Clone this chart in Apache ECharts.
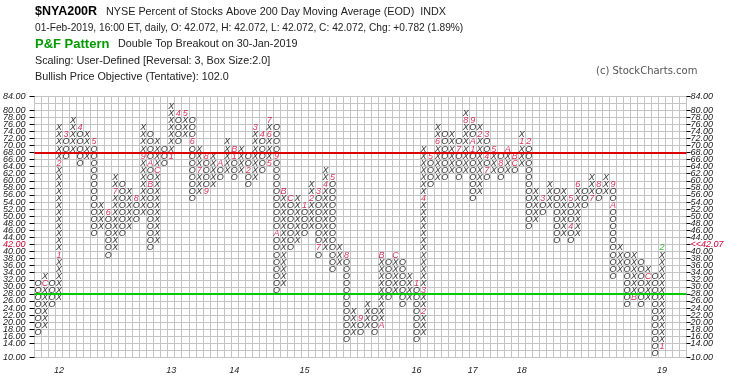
<!DOCTYPE html>
<html><head><meta charset="utf-8">
<script src="https://cdn.jsdelivr.net/npm/echarts@6/dist/echarts.min.js"></script>
<style>html,body{margin:0;padding:0;background:#fff}#c{width:745px;height:383px}</style>
</head><body><div id="c"></div>
<script>
// ---- data (box values, box size 2); columns alternate O / X starting with O ----
const firstColType = 'O';
const colLow  = [18,20,26,28,68,70,66,68,46,48, 40,42,46,48,50,52,42,44,66,68, 72,74,56,58,58,60,62,64,62,64, 60,62,64,66,30,32,42,44,46,48, 40,42,36,38,16,18,18,20,18,20, 28,30,26,28,16,18,60,62,62,64, 62,64,56,58,62,64,62,64,64,66, 48,50,52,54,44,46,44,46,54,56, 56,58,34,36,26,28,26,28,12,14];
const colHigh = [32,34,32,76,74,78,76,74,72,54, 52,62,60,58,56,76,74,72,70,82, 80,80,78,70,68,68,66,72,70,70, 68,76,74,78,76,58,56,56,54,60, 58,64,62,42,40,24,22,26,24,40, 38,40,38,34,32,70,68,76,74,74, 72,80,78,76,74,70,68,70,68,74, 72,58,56,60,58,58,56,60,58,62, 60,62,60,42,40,40,38,36,34,42];
const monthMarks = [
  [1,32,'C'],[3,40,'1'],[3,66,'2'],[4,74,'3'],[6,76,'4'],[8,72,'5'],[10,52,'6'],[11,58,'7'],[14,56,'8'],[15,68,'9'],[16,66,'A'],[16,60,'B'],[17,64,'C'],
  [19,68,'1'],[20,80,'4'],[21,80,'5'],[22,72,'6'],[23,64,'7'],[24,68,'8'],[24,58,'9'],[26,66,'A'],[28,70,'B'],[28,68,'1'],
  [30,64,'2'],[31,76,'3'],[32,74,'4'],[33,66,'5'],[33,74,'6'],[33,78,'7'],[34,68,'9'],[34,46,'A'],[35,58,'B'],[36,56,'C'],
  [38,54,'1'],[39,56,'2'],[40,58,'3'],[41,60,'4'],[42,62,'5'],[40,42,'7'],[44,40,'8'],[46,22,'9'],[49,20,'A'],[49,40,'B'],[51,40,'C'],
  [54,32,'1'],[55,24,'2'],[55,30,'3'],[55,56,'4'],[56,68,'5'],[57,72,'6'],[60,70,'7'],[61,78,'8'],[62,78,'9'],[62,72,'A'],
  [62,70,'1'],[63,74,'2'],[64,74,'3'],[64,68,'4'],[65,70,'5'],[64,64,'7'],[66,66,'8'],[67,70,'A'],[68,68,'B'],[68,66,'C'],
  [69,72,'1'],[70,72,'2'],[72,56,'3'],[76,48,'4'],[76,56,'5'],[77,60,'6'],[79,56,'7'],[80,60,'8'],[82,60,'9'],[82,54,'A'],
  [85,28,'B'],[87,34,'C'],[89,14,'1']
];
const currentMark = [89,42,'2'];
const yearLabels = {3:'12',19:'13',28:'14',38:'15',54:'16',62:'17',69:'18',89:'19'};
const totalCols = 93;
const priceMin = 10, priceMax = 84, boxSize = 2;
const lastPrice = '42.07', lastBox = 42;
const upperLine = 68, lowerLine = 28;

// ---- build points ----
const markKey = {};
monthMarks.forEach(m => markKey[m[0]+'_'+m[1]] = 1);
markKey[currentMark[0]+'_'+currentMark[1]] = 1;
const xs = [], os = [];
colLow.forEach((lo, i) => {
  const t = (i % 2 === 0) ? firstColType : (firstColType === 'O' ? 'X' : 'O');
  for (let v = lo; v <= colHigh[i]; v += boxSize) {
    if (markKey[i+'_'+v]) continue;
    (t === 'X' ? xs : os).push([i, v - boxSize/2]);
  }
});
const marks = monthMarks.map(m => [m[0], m[1] - boxSize/2, m[2]]);
const cats = Array.from({length: totalCols}, (_, i) => String(i));

const symFont = {fontFamily: 'Liberation Sans', fontStyle: 'italic', fontSize: 9};
function textSeries(name, data, color, txtFn) {
  return {
    name, type: 'scatter', data, symbol: 'rect', symbolSize: 1,
    itemStyle: {color: 'rgba(0,0,0,0)'}, silent: true, animation: false,
    label: Object.assign({show: true, position: 'inside', color,
      formatter: p => txtFn(p)}, symFont),
    labelLayout: {hideOverlap: false}
  };
}

const chart = echarts.init(document.getElementById('c'), null, {renderer: 'canvas'});
const F = 'Liberation Sans, Arial, sans-serif';
chart.setOption({
  backgroundColor: '#fff',
  animation: false,
  grid: {left: 34.5, right: 58.5, top: 96, bottom: 25.5},
  xAxis: {
    type: 'category', data: cats, boundaryGap: true,
    axisLine: {show: false}, axisTick: {show: false},
    splitLine: {show: true, interval: 0, lineStyle: {color: '#c4c4c4', width: 1}},
    axisLabel: {interval: 0, margin: 8, fontFamily: F, fontStyle: 'italic', fontSize: 9, color: '#222',
      formatter: (v, i) => yearLabels[i] || ''}
  },
  yAxis: [{
    type: 'value', min: priceMin, max: priceMax, interval: boxSize, position: 'left',
    axisLine: {show: false},
    axisTick: {show: true, length: 5, lineStyle: {color: '#000'}},
    splitLine: {show: true, lineStyle: {color: '#c4c4c4', width: 1}},
    axisLabel: {margin: 9, showMinLabel: true, showMaxLabel: true, hideOverlap: false,
      fontFamily: F, fontStyle: 'italic', fontSize: 9,
      color: v => (Number(v) === lastBox ? '#cc0033' : '#222'),
      formatter: v => Number(v).toFixed(2)}
  }, {
    type: 'value', min: priceMin, max: priceMax, interval: boxSize, position: 'right',
    axisLine: {show: false},
    axisTick: {show: true, length: 4, lineStyle: {color: '#000'}},
    splitLine: {show: false},
    axisLabel: {margin: 4, showMinLabel: true, showMaxLabel: true, hideOverlap: false,
      fontFamily: F, fontStyle: 'italic', fontSize: 9,
      color: v => (Number(v) === lastBox ? '#cc0033' : '#222'),
      formatter: v => (Number(v) === lastBox ? '<<' + lastPrice : Number(v).toFixed(2))}
  }],
  series: [
    Object.assign(textSeries('X', xs, '#000', () => 'X'), {
      markLine: {silent: true, symbol: 'none', label: {show: false},
        data: [{yAxis: upperLine, lineStyle: {color: '#dd0000', width: 2, type: 'solid'}},
               {yAxis: lowerLine, lineStyle: {color: '#00cc00', width: 2, type: 'solid'}}]}
    }),
    textSeries('O', os, '#000', () => 'O'),
    textSeries('M', marks, '#cc0033', p => p.data[2]),
    textSeries('Cur', [[currentMark[0], currentMark[1] - boxSize/2, currentMark[2]]], '#00aa00', p => p.data[2])
  ],
  graphic: [
    {type: 'text', left: 35, top: 5, style: {text: '$NYA200R', font: 'bold 12.5px ' + F, fill: '#000'}},
    {type: 'text', left: 106, top: 6.5, style: {text: 'NYSE Percent of Stocks Above 200 Day Moving Average (EOD)  INDX', font: '10.8px ' + F, fill: '#222'}},
    {type: 'text', left: 35, top: 23, style: {text: '01-Feb-2019, 16:00 ET, daily, O: 42.072, H: 42.072, L: 42.072, C: 42.072, Chg: +0.782 (1.89%)', font: '10.2px ' + F, fill: '#222'}},
    {type: 'text', left: 35, top: 38, style: {text: 'P&F Pattern', font: 'bold 13px ' + F, fill: '#009900'}},
    {type: 'text', left: 118, top: 39, style: {text: 'Double Top Breakout on 30-Jan-2019', font: '10.8px ' + F, fill: '#222'}},
    {type: 'text', left: 35, top: 55.5, style: {text: 'Scaling: User-Defined [Reversal: 3, Box Size:2.0]', font: '10.8px ' + F, fill: '#222'}},
    {type: 'text', left: 35, top: 71.5, style: {text: 'Bullish Price Objective (Tentative): 102.0', font: '10.8px ' + F, fill: '#222'}},
    {type: 'text', left: 596, top: 66, style: {text: '(c) StockCharts.com', font: '10px DejaVu Sans, sans-serif', fill: '#555'}}
  ]
});
</script></body></html>
